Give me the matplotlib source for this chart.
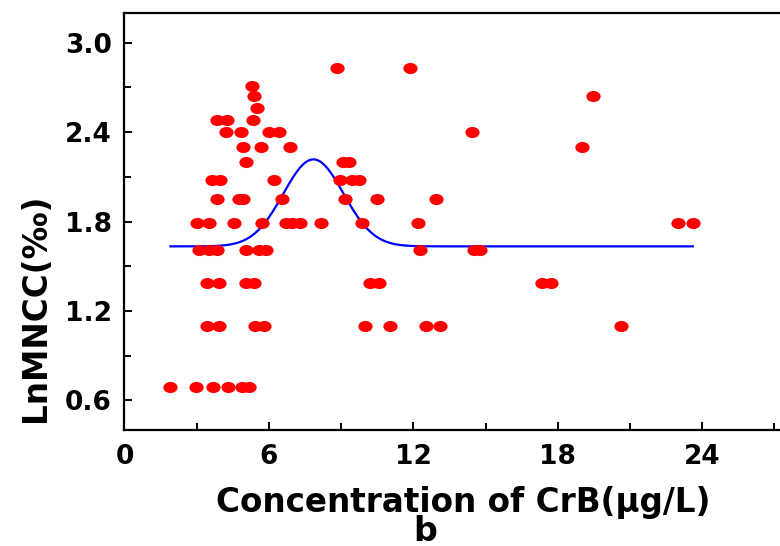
import numpy as np
import matplotlib
matplotlib.use('Agg')
import matplotlib.pyplot as plt
from matplotlib.path import Path
from matplotlib.transforms import Affine2D
from matplotlib.ticker import MultipleLocator

#! data: concentration of CrB vs LnMNCC
conc = [1.91, 2.95, 3.66, 4.28, 4.89, 5.17,
        3.44, 3.92, 5.44, 5.79, 9.98, 11.05, 12.53, 13.09, 20.64,
        3.44, 3.92, 5.03, 5.40, 10.22, 10.57, 17.35, 17.70,
        3.09, 3.50, 3.85, 5.03, 5.58, 5.87, 12.26, 14.51, 14.76,
        3.03, 3.51, 4.57, 5.73, 6.69, 6.94, 7.31, 8.17, 9.87, 12.18, 23.00, 23.61,
        3.85, 4.74, 4.94, 6.56, 9.18, 10.50, 12.96,
        3.65, 3.95, 6.23, 8.97, 9.46, 9.73,
        5.03, 9.06, 9.31,
        4.93, 5.68, 6.87, 19.02,
        4.20, 4.82, 5.99, 6.41, 14.42,
        3.85, 4.24, 5.35,
        5.51,
        5.38, 19.45,
        5.30,
        8.81, 11.85]
ln_mncc = [0.69] * 6 + [1.10] * 9 + [1.39] * 8 + [1.61] * 9 + [1.79] * 12 \
    + [1.95] * 7 + [2.08] * 6 + [2.20] * 3 + [2.30] * 4 + [2.40] * 5 \
    + [2.48] * 3 + [2.56] * 1 + [2.64] * 2 + [2.71] * 1 + [2.83] * 2

#! gauss fit parameters (y0 + A*exp(-(x-xc)^2/(2w^2)))
fit_y0 = 1.633
fit_A = 0.584
fit_xc = 7.85
fit_w = 1.25

x_ticks = [0, 6, 12, 18, 24]
y_ticks = [0.6, 1.2, 1.8, 2.4, 3.0]

fig = plt.figure(figsize=(7.8, 5.46), dpi=100)
ax = fig.add_axes([124.5 / 780, 116 / 546, 28.5 * 24.07 / 780, 417 / 546])

ellipse = Affine2D().scale(1.28, 1.0).transform_path(Path.unit_circle())
ax.scatter(conc, ln_mncc, s=105, marker=ellipse, color='#ff0000', linewidths=0, zorder=3)

xx = np.linspace(min(conc), max(conc), 400)
yy = fit_y0 + fit_A * np.exp(-(xx - fit_xc) ** 2 / (2 * fit_w ** 2))
ax.plot(xx, yy, color='#0000ff', lw=1.6, zorder=2)

ax.set_xlim(0, 28.5)
ax.set_ylim(0.4, 3.2)
ax.set_xticks(x_ticks)
ax.set_yticks(y_ticks)
ax.set_yticklabels(['{:.1f}'.format(v) for v in y_ticks])
ax.xaxis.set_minor_locator(MultipleLocator(3))
ax.yaxis.set_minor_locator(MultipleLocator(0.3))

for sp in ax.spines.values():
    sp.set_linewidth(1.6)
ax.tick_params(which='both', direction='in', width=1.4, top=False, right=False)
ax.tick_params(which='major', length=6)
ax.tick_params(which='minor', length=5)
ax.tick_params(axis='x', which='major', pad=10, labelsize=19)
ax.tick_params(axis='y', which='major', pad=9, labelsize=19)
for lab in ax.get_xticklabels() + ax.get_yticklabels():
    lab.set_fontweight('bold')

fig.text(463 / 780, 34 / 546, 'Concentration of CrB(μg/L)', ha='center', va='baseline',
         fontsize=23.5, fontweight='bold')
fig.text(45 / 780, 238 / 546, 'LnMNCC(‰)', ha='center', va='baseline', rotation=90,
         rotation_mode='anchor', fontsize=23.5, fontweight='bold')
fig.text(425 / 780, 5 / 546, 'b', ha='center', va='baseline', fontsize=24, fontweight='bold')

fig.savefig('out.png', dpi=100)
